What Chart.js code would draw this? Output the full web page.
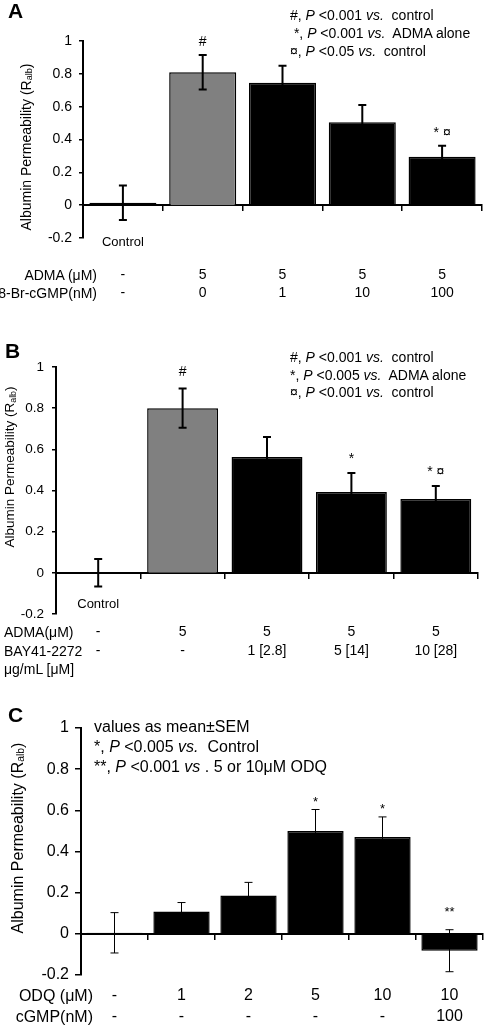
<!DOCTYPE html>
<html>
<head>
<meta charset="utf-8">
<script src="https://cdn.jsdelivr.net/npm/chart.js@4.4.1/dist/chart.umd.min.js"></script>
<style>
  body { margin: 0; background: #fff; width: 486px; height: 1026px; position: relative; overflow: hidden;
         font-family: "Liberation Sans", Arial, sans-serif; color: #000; }
  canvas { position: absolute; left: 0; }
  .t { position: absolute; white-space: nowrap; line-height: 1.15; }
  .letter { position: absolute; font-weight: bold; font-size: 21px; line-height: 1; }
  sub { font-size: 65%; vertical-align: -0.15em; }
</style>
</head>
<body>
<canvas id="chartA" width="486" height="340" style="top:0"></canvas>
<canvas id="chartB" width="486" height="340" style="top:340px"></canvas>
<canvas id="chartC" width="486" height="346" style="top:680px"></canvas>
<script>
// panel A - ADMA with 8-Br-cGMP
const admaA = ['-', '5', '5', '5', '5'];
const brcgmpA = ['-', '0', '1', '10', '100'];
const valuesA = [0.015, 0.81, 0.745, 0.505, 0.295];
const semA = [0.105, 0.105, 0.105, 0.105, 0.067];
const marksA = ['', '#', '', '', '* \u00a4'];

// panel B - ADMA with BAY41-2272
const admaB = ['-', '5', '5', '5', '5'];
const bayB = ['-', '-', '1 [2.8]', '5 [14]', '10 [28]'];
const valuesB = [0, 0.80, 0.563, 0.393, 0.359];
const semB = [0.067, 0.095, 0.097, 0.092, 0.063];
const marksB = ['', '#', '', '*', '* \u00a4'];

// panel C - ODQ with cGMP
const odqC = ['-', '1', '2', '5', '10', '10'];
const cgmpC = ['-', '-', '-', '-', '-', '100'];
const valuesC = [0.005, 0.108, 0.186, 0.50, 0.471, -0.082];
const semC = [0.098, 0.044, 0.064, 0.104, 0.097, 0.102];
const marksC = ['', '', '', '*', '*', '**'];

const yMin = -0.2, yMax = 1, yStep = 0.2;
const FONT = '"Liberation Sans", Arial, sans-serif';

// error bars, significance marks and the treatment table under each chart
const extras = {
  id: 'extras',
  afterDatasetsDraw(chart, args, o) {
    const { ctx } = chart;
    const x = chart.scales.x, y = chart.scales.y;
    ctx.save();
    ctx.strokeStyle = '#000';
    ctx.fillStyle = '#000';
    ctx.lineWidth = o.errWidth;
    o.values.forEach((v, i) => {
      const cx = x.getPixelForValue(i);
      const top = y.getPixelForValue(v + o.sem[i]);
      const bot = y.getPixelForValue(v - o.sem[i]);
      ctx.beginPath();
      ctx.moveTo(cx, top); ctx.lineTo(cx, bot);
      ctx.moveTo(cx - o.cap, top); ctx.lineTo(cx + o.cap, top);
      ctx.moveTo(cx - o.cap, bot); ctx.lineTo(cx + o.cap, bot);
      ctx.stroke();
      if (o.marks[i]) {
        ctx.font = o.markFont + 'px ' + FONT;
        ctx.textAlign = 'center';
        ctx.textBaseline = 'alphabetic';
        ctx.fillText(o.marks[i], cx, top - o.markGap - (o.markShift[i] || 0));
      }
    });
    ctx.font = o.rowFont + 'px ' + FONT;
    ctx.textAlign = 'center';
    ctx.textBaseline = 'middle';
    o.rows.forEach((row, r) => {
      row.forEach((txt, i) => ctx.fillText(txt, x.getPixelForValue(i), o.rowY[r]));
    });
    if (o.controlY) {
      ctx.font = '13px ' + FONT;
      ctx.fillText('Control', x.getPixelForValue(0), o.controlY);
    }
    ctx.restore();
  }
};

function makeChart(id, p) {
  return new Chart(document.getElementById(id), {
    type: 'bar',
    data: {
      labels: p.values.map((v, i) => i),
      datasets: [{
        data: p.values,
        backgroundColor: p.colors,
        borderColor: '#000',
        borderWidth: 1.5,
        categoryPercentage: 1,
        barPercentage: 0.84
      }]
    },
    options: {
      responsive: false,
      animation: false,
      devicePixelRatio: 1,
      layout: { padding: p.padding },
      plugins: {
        legend: { display: false },
        tooltip: { enabled: false },
        extras: {
          values: p.values, sem: p.sem, marks: p.marks,
          errWidth: p.errWidth, cap: p.cap,
          markFont: p.markFont, markGap: p.markGap, markShift: p.markShift || {},
          rows: p.rows, rowY: p.rowY, rowFont: p.rowFont, controlY: p.controlY
        }
      },
      scales: {
        x: {
          position: { y: 0 },
          ticks: { display: false },
          grid: { display: true, offset: true, drawOnChartArea: false, drawTicks: true,
                  tickLength: 5, color: '#000', lineWidth: 1.5 },
          border: { display: true, color: '#000', width: 2 }
        },
        y: {
          min: yMin, max: yMax,
          afterFit: (s) => { s.width = p.axisLeft; },
          ticks: {
            stepSize: yStep,
            color: '#000',
            padding: p.tickPad,
            font: { family: FONT, size: p.tickFont },
            callback: (v) => String(Math.round(v * 10) / 10)
          },
          grid: { drawOnChartArea: false, drawTicks: true, tickLength: p.tickLen, color: '#000', lineWidth: 1.5 },
          border: { display: true, color: '#000', width: 2 }
        }
      }
    },
    plugins: [extras]
  });
}

makeChart('chartA', {
  values: valuesA, sem: semA, marks: marksA,
  colors: ['#000', '#808080', '#000', '#000', '#000'],
  padding: { left: 0, top: 41, right: 4, bottom: 102 },
  axisLeft: 83, tickFont: 14, tickPad: 7, tickLen: 4,
  errWidth: 2, cap: 4, markFont: 14, markGap: 9,
  rows: [admaA, brcgmpA], rowY: [275, 293], rowFont: 14, controlY: 242
});

makeChart('chartB', {
  values: valuesB, sem: semB, marks: marksB,
  colors: ['#000', '#808080', '#000', '#000', '#000'],
  padding: { left: 0, top: 27, right: 8, bottom: 66 },
  axisLeft: 56, tickFont: 13.5, tickPad: 8, tickLen: 4,
  errWidth: 2, cap: 4, markFont: 14, markGap: 10, markShift: { 1: 3 },
  rows: [admaB, bayB], rowY: [292, 311], rowFont: 14, controlY: 264
});

makeChart('chartC', {
  values: valuesC, sem: semC, marks: marksC,
  colors: ['#000', '#000', '#000', '#000', '#000', '#000'],
  padding: { left: 0, top: 48, right: 3, bottom: 51 },
  axisLeft: 81, tickFont: 16, tickPad: 6, tickLen: 6,
  errWidth: 1, cap: 4, markFont: 13, markGap: 4, markShift: { 5: 10 },
  rows: [odqC, cgmpC], rowY: [316, 337], rowFont: 16
});

// plain html text: panel letters, y titles, legends and table row titles
function addText(html, x, y, size, cls, align) {
  const d = document.createElement('div');
  d.className = cls || 't';
  d.innerHTML = html;
  d.style.left = x + 'px';
  d.style.top = y + 'px';
  if (size) d.style.fontSize = size + 'px';
  const tx = align === 'right' ? '-100%' : align === 'center' ? '-50%' : '0';
  if (cls !== 'letter') d.style.transform = 'translate(' + tx + ',-50%)';
  document.body.appendChild(d);
  return d;
}
function addYTitle(x, y, size) {
  const d = addText('Albumin Permeability (R<sub>alb</sub>)', x, y, size);
  d.style.transform = 'translate(-50%,-50%) rotate(-90deg)';
}

addText('A', 8, 0, 0, 'letter');
addText('B', 5, 340, 0, 'letter');
addText('C', 8, 704, 0, 'letter');

addYTitle(26, 147, 14);
addYTitle(10, 467, 13.5);
addYTitle(18, 838, 16);

const legendA = ['#, <i>P</i> &lt;0.001 <i>vs.</i>&nbsp; control',
                 '&nbsp;*, <i>P</i> &lt;0.001 <i>vs.</i>&nbsp; ADMA alone',
                 '\u00a4, <i>P</i> &lt;0.05 <i>vs.</i>&nbsp; control'];
legendA.forEach((s, i) => addText(s, 290, 15 + i * 18, 14));

const legendB = ['#, <i>P</i> &lt;0.001 <i>vs.</i>&nbsp; control',
                 '*, <i>P</i> &lt;0.005 <i>vs.</i>&nbsp; ADMA alone',
                 '\u00a4, <i>P</i> &lt;0.001 <i>vs.</i>&nbsp; control'];
legendB.forEach((s, i) => addText(s, 290, 357 + i * 17.5, 14));

const legendC = ['values as mean\u00b1SEM',
                 '*, <i>P</i> &lt;0.005 <i>vs.</i>&nbsp; Control',
                 '**, <i>P</i> &lt;0.001 <i>vs</i> . 5 or 10\u03bcM ODQ'];
legendC.forEach((s, i) => addText(s, 94, 727 + i * 20, 16));

addText('ADMA (\u03bcM)', 97, 275, 14, 't', 'right');
addText('8-Br-cGMP(nM)', 97, 293, 14, 't', 'right');
addText('ADMA(\u03bcM)', 4, 632, 14);
addText('BAY41-2272', 4, 651, 14);
addText('\u03bcg/mL [\u03bcM]', 4, 669, 14);
addText('ODQ (\u03bcM)', 93, 996, 16, 't', 'right');
addText('cGMP(nM)', 93, 1017, 16, 't', 'right');
</script>
</body>
</html>
